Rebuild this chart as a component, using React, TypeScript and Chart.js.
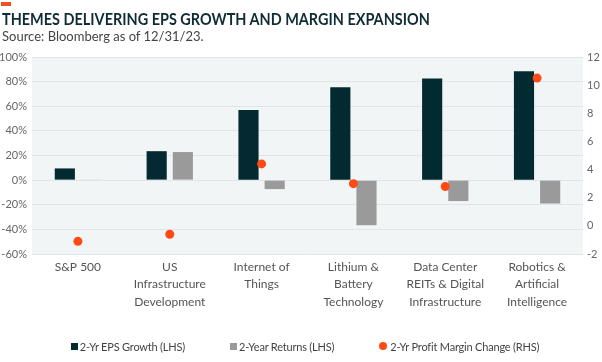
import React, { useEffect, useRef } from "react";
import { Chart, registerables } from "chart.js";
Chart.register(...registerables);

const categories: string[][] = [
  ["S&P 500"],
  ["US", "Infrastructure", "Development"],
  ["Internet of", "Things"],
  ["Lithium &", "Battery", "Technology"],
  ["Data Center", "REITs & Digital", "Infrastructure"],
  ["Robotics &", "Artificial", "Intelligence"],
];
const epsGrowth = [9.5, 23.5, 57, 75.5, 82.5, 88.5];
const twoYearReturns = [0.5, 22.8, -7.3, -36.6, -17, -19];
const marginChange = [-1.1, -0.6, 4.4, 3.0, 2.8, 10.5];
const seriesNames = ["2-Yr EPS Growth (LHS)", "2-Year Returns (LHS)", "2-Yr Profit Margin Change (RHS)"];
const seriesColors = ["#022a30", "#9a9a9a", "#ff4a17"];
const leftTicks = { min: -60, max: 100, step: 20 };
const rightTicks = { min: -2, max: 12, step: 2 };

const FONT = "Lato, 'Open Sans', sans-serif";

const bgPlugin = {
  id: "plotBg",
  beforeDraw(chart: any) {
    const { ctx, chartArea } = chart;
    ctx.save();
    ctx.fillStyle = "#f2f5f6";
    ctx.fillRect(chartArea.left, chartArea.top, chartArea.right - chartArea.left, chartArea.bottom - chartArea.top);
    ctx.restore();
  },
};

export default function App() {
  const ref = useRef<HTMLCanvasElement>(null);
  useEffect(() => {
    if (!ref.current) return;
    const chart = new Chart(ref.current, {
      type: "bar",
      data: {
        labels: categories as any,
        datasets: [
          {
            type: "line" as any,
            label: seriesNames[2],
            data: marginChange,
            yAxisID: "y1",
            showLine: false,
            pointRadius: 4.5,
            pointHoverRadius: 4.5,
            pointBackgroundColor: seriesColors[2],
            pointBorderWidth: 0,
            backgroundColor: seriesColors[2],
            borderColor: seriesColors[2],
            order: 0,
          } as any,
          {
            label: seriesNames[0],
            data: epsGrowth,
            backgroundColor: seriesColors[0],
            yAxisID: "y",
            barPercentage: 0.77,
            categoryPercentage: 0.57,
            order: 1,
          } as any,
          {
            label: seriesNames[1],
            data: twoYearReturns,
            backgroundColor: seriesColors[1],
            yAxisID: "y",
            barPercentage: 0.77,
            categoryPercentage: 0.57,
            order: 2,
          } as any,
        ],
      },
      options: {
        animation: false,
        responsive: false,
        maintainAspectRatio: false,
        layout: { padding: { top: 57, left: 0, right: 0, bottom: 0 } },
        plugins: {
          tooltip: { enabled: false },
          legend: { display: false },
        },
        scales: {
          x: {
            grid: { display: false, drawTicks: false },
            border: { display: false },
            ticks: {
              color: "#555",
              font: { family: FONT, size: 12, lineHeight: 1.475 },
              padding: 4,
              maxRotation: 0,
              autoSkip: false,
            },
            afterFit(scale: any) {
              scale.height = 108;
            },
          },
          y: {
            position: "left",
            min: leftTicks.min,
            max: leftTicks.max,
            grid: { color: "#e1e5e7", drawTicks: false, lineWidth: 1 },
            border: { display: false },
            ticks: {
              stepSize: leftTicks.step,
              padding: 5,
              color: "#666",
              font: { family: FONT, size: 11 },
              callback: (v: any) => `${v}%`,
            },
            afterFit(scale: any) {
              scale.width = 32;
            },
          },
          y1: {
            position: "right",
            min: rightTicks.min,
            max: rightTicks.max,
            grid: { display: false, drawTicks: false },
            border: { display: false },
            ticks: {
              stepSize: rightTicks.step,
              padding: 4,
              color: "#666",
              font: { family: FONT, size: 11 },
            },
            afterFit(scale: any) {
              scale.width = 19;
            },
          },
        },
      },
      plugins: [bgPlugin],
    });
    return () => chart.destroy();
  }, []);

  return (
    <div style={{ position: "fixed", left: 0, top: 0, width: 602, height: 362, background: "#fff", fontFamily: FONT, overflow: "hidden" }}>
      <canvas ref={ref} width={602} height={362} style={{ position: "absolute", left: 0, top: 0, width: 602, height: 362 }} />
      <div style={{ position: "absolute", left: 1, top: 2, width: 10, height: 4, background: "#f04e23" }} />
      <div
        style={{
          position: "absolute",
          left: 2,
          top: 9,
          fontSize: 17,
          fontWeight: 700,
          color: "#0f2c35",
          lineHeight: "20px",
          whiteSpace: "nowrap",
          transform: "scaleX(0.85)",
          transformOrigin: "0 0",
        }}
      >
        THEMES DELIVERING EPS GROWTH AND MARGIN EXPANSION
      </div>
      <div
        style={{
          position: "absolute",
          left: 2,
          top: 28,
          fontSize: 13,
          color: "#444",
          lineHeight: "16px",
          whiteSpace: "nowrap",
        }}
      >
        Source: Bloomberg as of 12/31/23.
      </div>
      <div
        style={{
          position: "absolute",
          left: 8,
          top: 337,
          width: 594,
          height: 18,
          display: "flex",
          justifyContent: "center",
          alignItems: "center",
          gap: 45,
          fontSize: 11,
          letterSpacing: -0.2,
          color: "#444",
          whiteSpace: "nowrap",
        }}
      >
        {seriesNames.map((name, i) => (
          <div key={name} style={{ display: "flex", alignItems: "center" }}>
            <span
              style={{
                display: "inline-block",
                width: i === 2 ? 8 : 7,
                height: i === 2 ? 8 : 7,
                borderRadius: i === 2 ? "50%" : 0,
                background: seriesColors[i],
                marginRight: i === 2 ? 3 : 2,
              }}
            />
            <span>{name}</span>
          </div>
        ))}
      </div>
    </div>
  );
}
